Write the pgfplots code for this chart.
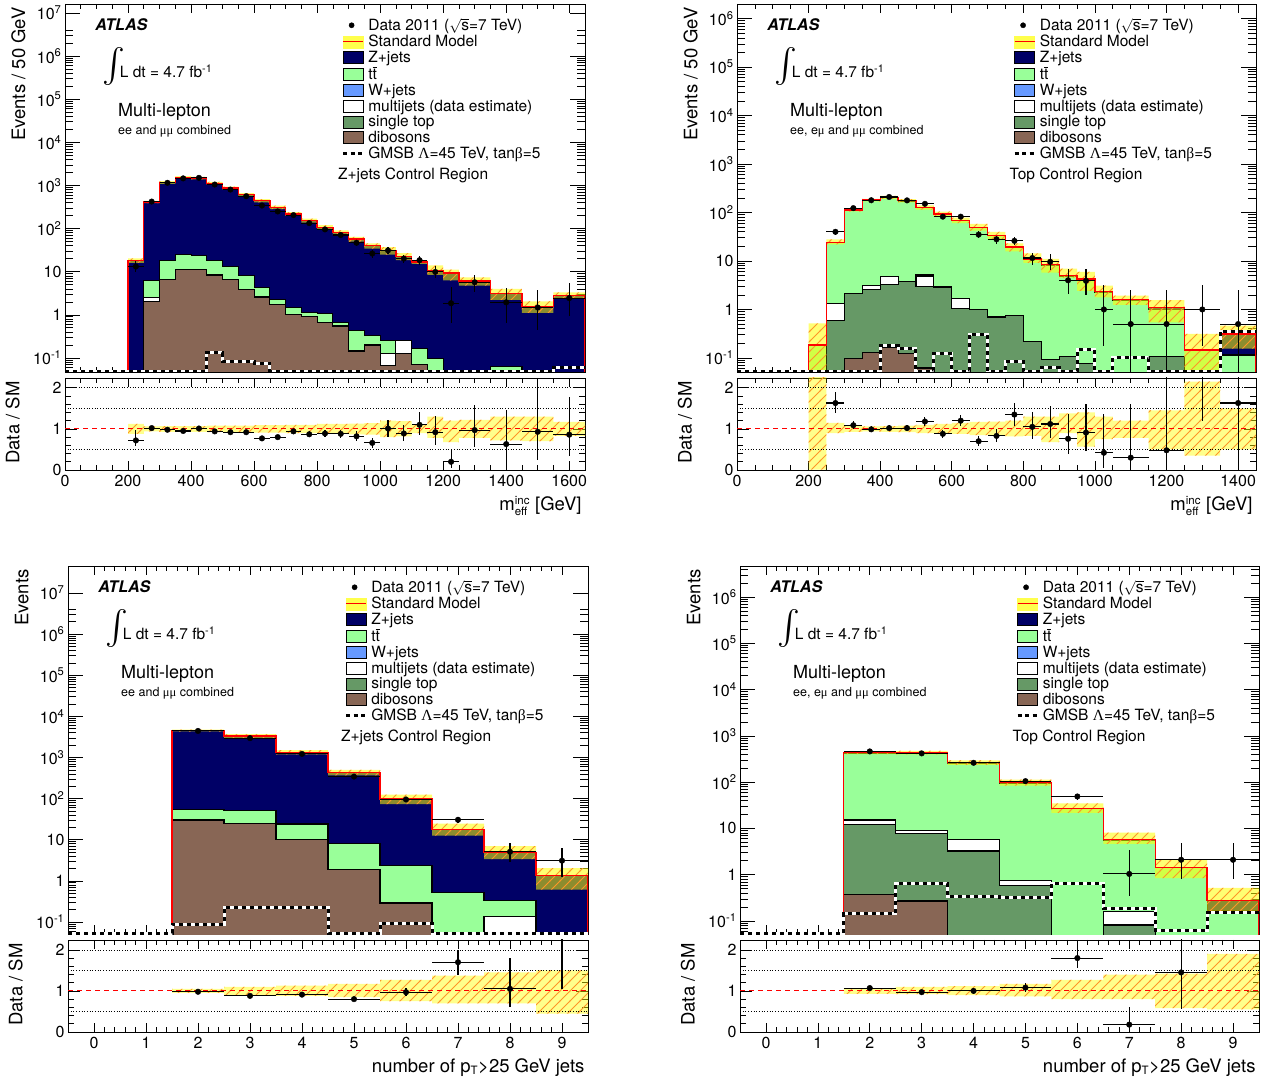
\documentclass[border=0pt]{standalone}
\usepackage{fontspec}
\setmainfont{TeX Gyre Heros}
\newfontfamily\grk{Liberation Serif}
\usepackage{pgfplots}
\pgfplotsset{compat=1.18}
\usepackage{pgfplotstable}
\usetikzlibrary{patterns}

\pgfdeclarepatternformonly{hatch}{\pgfqpoint{-1pt}{-1pt}}{\pgfqpoint{11pt}{11pt}}{\pgfqpoint{10pt}{10pt}}%
{\pgfsetlinewidth{0.9pt}\pgfpathmoveto{\pgfqpoint{-1pt}{-1pt}}\pgfpathlineto{\pgfqpoint{11pt}{11pt}}\pgfusepath{stroke}}

\definecolor{zjcol}{RGB}{0,0,102}
\definecolor{ttcol}{RGB}{153,255,153}
\definecolor{wjcol}{RGB}{102,153,255}
\definecolor{stcol}{RGB}{102,153,102}
\definecolor{dbcol}{RGB}{136,102,85}
\definecolor{bandyel}{RGB}{255,255,0}
\definecolor{hatchor}{RGB}{255,150,40}

\newcommand\fsTick{\fontsize{16}{19}\selectfont}
\newcommand\fsLeg{\fontsize{15.5}{18}\selectfont}
\newcommand\fsTitle{\fontsize{18.5}{22}\selectfont}
\newcommand\fsML{\fontsize{18}{21}\selectfont}
\newcommand\fsSmall{\fontsize{12.5}{15}\selectfont}
\newcommand\fsSub{\fontsize{11.5}{12}\selectfont}

\def\minlist{0.05,0.06,0.07,0.08,0.09,0.2,0.3,0.4,0.5,0.6,0.7,0.8,0.9,2,3,4,5,6,7,8,9,20,30,40,50,60,70,80,90,200,300,400,500,600,700,800,900,2000,3000,4000,5000,6000,7000,8000,9000,20000,30000,40000,50000,60000,70000,80000,90000,200000,300000,400000,500000,600000,700000,800000,900000,2000000,3000000,4000000}

% ---------------- top left: meff, Z+jets CR ----------------
\pgfplotstableread{
x Z tt W mj st db gm
0 0.001 0.001 0.001 0.001 0.001 0.001 0.049
200 18.3 0.001 0.001 0.001 0.001 0.001 0.049
250 416 6.3 2.5 2.5 2.0 2.0 0.049
300 1180 18.3 6.6 6.6 6.6 6.6 0.049
350 1540 24.8 11.2 11.2 11.2 11.2 0.049
400 1490 23.5 11.2 11.2 11.2 11.2 0.049
450 1120 18.3 8.4 8.4 8.4 8.4 0.132
500 875 13.3 6.7 6.7 6.7 6.7 0.082
550 614 8.3 3.9 3.9 3.9 3.9 0.082
600 446 4.3 2.6 2.6 2.6 2.6 0.075
650 312 2.27 1.74 1.74 1.74 1.74 0.049
700 219 1.45 1.02 1.02 1.02 1.02 0.049
750 154 1.11 0.90 0.90 0.90 0.90 0.049
800 108 1.08 0.68 0.68 0.68 0.68 0.049
850 81 0.68 0.55 0.55 0.55 0.55 0.049
900 57 0.43 0.145 0.145 0.145 0.145 0.049
950 40 0.34 0.20 0.20 0.20 0.20 0.049
1000 31 0.25 0.13 0.13 0.066 0.066 0.049
1050 22.7 0.26 0.26 0.26 0.124 0.124 0.049
1100 16.8 0.167 0.07 0.07 0.07 0.07 0.049
1150 10.8 0.095 0.001 0.001 0.001 0.001 0.049
1200 9.3 0.001 0.001 0.001 0.001 0.001 0.049
1250 6.1 0.001 0.001 0.001 0.001 0.001 0.049
1350 3.1 0.062 0.001 0.001 0.001 0.001 0.049
1450 1.59 0.001 0.001 0.001 0.001 0.001 0.049
1550 2.85 0.001 0.001 0.001 0.001 0.001 0.061
1650 2.85 0.001 0.001 0.001 0.001 0.001 0.061
1650 0.001 0.001 0.001 0.001 0.001 0.001 0.061
}\TLs
\pgfplotstableread{
x Z m
200 18.3 1.12
250 416 1.06
300 1180 1.07
350 1540 1.07
400 1490 1.07
450 1120 1.08
500 875 1.08
550 614 1.08
600 446 1.09
650 312 1.09
700 219 1.10
750 154 1.10
800 108 1.12
850 81 1.12
900 57 1.13
950 40 1.14
1000 31 1.20
1050 22.7 1.19
1100 16.8 1.10
1150 10.8 1.30
1200 9.3 1.20
1250 6.1 1.22
1350 3.1 1.30
1450 1.59 1.30
1550 2.85 1.17
1650 2.85 1.17
1650 2.85 0.83
1550 1.59 0.70
1450 3.1 0.72
1350 6.1 0.78
1250 9.3 0.68
1200 10.8 0.78
1150 16.8 0.90
1100 22.7 0.82
1050 31 0.80
1000 40 0.86
950 57 0.87
900 81 0.88
850 108 0.88
800 154 0.90
750 219 0.90
700 312 0.91
650 446 0.91
600 614 0.92
550 875 0.92
500 1120 0.92
450 1490 0.93
400 1540 0.93
350 1180 0.93
300 416 0.94
250 18.3 0.88
200 18.3 0.88
}\TLb
\pgfplotstableread{
xc xe D ep em r rp rm
225 25 13.2 4.2 3.6 0.72 0.26 0.14
275 25 424 20.6 20.6 1.02 0.05 0.05
325 25 1156 34 34 0.98 0.04 0.04
375 25 1463 38 38 0.95 0.04 0.04
425 25 1505 39 39 1.01 0.04 0.04
475 25 1053 32 32 0.94 0.04 0.04
525 25 805 28 28 0.92 0.04 0.04
575 25 565 24 24 0.92 0.04 0.04
625 25 343 18.5 18.5 0.77 0.04 0.04
675 25 250 15.8 15.8 0.80 0.05 0.05
725 25 206 14.3 14.3 0.94 0.07 0.07
775 25 134 11.6 11.6 0.87 0.07 0.07
825 25 96 9.8 9.8 0.89 0.09 0.09
875 25 71 8.4 8.4 0.88 0.10 0.10
925 25 47 6.9 6.9 0.82 0.12 0.12
975 25 26.4 5.1 5.1 0.66 0.13 0.13
1025 25 31.3 5.6 5.6 1.01 0.20 0.20
1075 25 20.2 4.5 4.5 0.89 0.20 0.18
1125 25 18.5 4.3 4.3 1.10 0.30 0.26
1175 25 9.9 3.8 2.9 0.92 0.40 0.30
1225 25 1.86 2.46 1.22 0.20 0.28 0.15
1300 50 5.7 2.8 2.4 0.97 0.62 0.42
1400 50 1.95 2.3 1.3 0.63 0.82 0.43
1500 50 1.48 2.3 1.04 0.93 1.30 0.68
1600 50 2.45 3.1 1.5 0.86 0.92 0.51
}\TLd

% ---------------- top right: meff, top CR ----------------
\pgfplotstableread{
x Z tt W mj st db gm
0 0.001 0.001 0.001 0.001 0.001 0.001 0.053
200 0.185 0.185 0.001 0.001 0.001 0.001 0.053
250 24.4 24.0 1.33 1.33 0.60 0.001 0.053
300 113 111 2.13 2.13 2.13 0.099 0.053
350 181 178 3.1 3.1 2.58 0.131 0.053
400 205 202 4.83 4.83 3.26 0.163 0.179
450 175 172 3.81 3.81 3.81 0.125 0.153
500 128 126 5.2 4.9 3.0 0.062 0.053
550 93.6 92 2.91 2.91 2.91 0.001 0.125
600 68.2 67 1.65 1.65 1.05 0.001 0.053
650 49.7 48.8 1.0 1.0 1.0 0.001 0.31
700 33.6 33 0.70 0.70 0.70 0.001 0.053
750 19.3 19 0.76 0.76 0.76 0.001 0.084
800 11 10.6 0.216 0.216 0.216 0.001 0.053
850 8.5 8.2 0.091 0.091 0.091 0.001 0.063
900 5.06 4.75 0.106 0.106 0.106 0.001 0.053
950 4.25 4.1 0.078 0.078 0.078 0.001 0.146
1000 2.38 2.2 0.001 0.001 0.001 0.001 0.053
1050 1.60 1.50 0.001 0.001 0.001 0.001 0.10
1150 1.08 1.0 0.106 0.106 0.106 0.001 0.053
1250 0.146 0.146 0.001 0.001 0.001 0.001 0.053
1350 0.31 0.115 0.001 0.001 0.001 0.001 0.35
1450 0.31 0.115 0.001 0.001 0.001 0.001 0.35
1450 0.001 0.001 0.001 0.001 0.001 0.001 0.35
}\TRs
\pgfplotstableread{
x Z m
200 0.185 2.8
250 24.4 1.15
300 113 1.07
350 181 1.06
400 205 1.07
450 175 1.08
500 128 1.10
550 93.6 1.12
600 68.2 1.15
650 49.7 1.17
700 33.6 1.18
750 19.3 1.20
800 11 1.30
850 8.5 1.30
900 5.06 1.38
950 4.25 1.40
1000 2.38 1.30
1050 1.60 1.20
1150 1.08 1.45
1250 0.146 2.15
1350 0.31 1.50
1450 0.31 1.50
1450 0.31 0.50
1350 0.146 0.35
1250 1.08 0.50
1150 1.60 0.78
1050 2.38 0.75
1000 4.25 0.57
950 5.06 0.90
900 8.5 0.68
850 11 0.83
800 19.3 0.82
750 33.6 0.85
700 49.7 0.85
650 68.2 0.88
600 93.6 0.88
550 128 0.90
500 175 0.92
450 205 0.93
400 181 0.94
350 113 0.93
300 24.4 0.90
250 0.185 0.01
200 0.185 0.01
}\TRb
\pgfplotstableread{
xc xe D ep em r rp rm
275 25 40 6.3 6.3 1.63 0.27 0.25
325 25 123 11 11 1.09 0.10 0.10
375 25 179 13.4 13.4 0.99 0.07 0.07
425 25 209 14.5 14.5 1.02 0.07 0.07
475 25 178 13.3 13.3 1.02 0.08 0.08
525 25 151 12.3 12.3 1.18 0.10 0.10
575 25 82 9.1 9.1 0.88 0.10 0.10
625 25 82 9 9 1.20 0.14 0.14
675 25 35 5.9 5.9 0.70 0.12 0.12
725 25 28 5.3 5.3 0.83 0.16 0.16
775 25 26 5.1 5.1 1.35 0.27 0.27
825 25 11.5 3.4 3.4 1.05 0.35 0.30
875 25 9.6 4.3 3.2 1.12 0.45 0.35
925 25 4.0 2.95 1.87 0.76 0.60 0.38
975 25 3.9 2.95 1.87 0.91 0.70 0.45
1025 25 1.0 2.16 0.82 0.42 0.95 0.37
1100 50 0.5 2.0 0.49 0.30 1.30 0.30
1200 50 0.5 2.0 0.49 0.48 2.00 0.48
1300 50 1.0 2.16 0.82 6.8 5.0 5.6
1400 50 0.5 2.0 0.49 1.63 2.00 1.63
}\TRd

% ---------------- bottom left: njets, Z+jets CR ----------------
\pgfplotstableread{
x Z tt W mj st db gm
-0.5 0.001 0.001 0.001 0.001 0.001 0.001 0.053
1.5 4520 55.2 30.3 30.3 30.3 30.3 0.089
2.5 3360 51 25.2 25.2 25.2 25.2 0.228
3.5 1346 24.2 9.9 9.9 9.9 9.9 0.228
4.5 430 8.2 1.91 1.91 1.91 1.91 0.053
5.5 98.4 2.31 0.29 0.29 0.29 0.29 0.093
6.5 18.0 0.52 0.001 0.001 0.001 0.001 0.053
7.5 4.85 0.34 0.135 0.135 0.001 0.001 0.053
8.5 1.37 0.001 0.001 0.001 0.001 0.001 0.053
9.5 1.37 0.001 0.001 0.001 0.001 0.001 0.053
9.5 0.001 0.001 0.001 0.001 0.001 0.001 0.053
}\BLs
\pgfplotstableread{
x Z m
1.5 4520 1.05
2.5 3360 1.10
3.5 1346 1.13
4.5 430 1.17
5.5 98.4 1.27
6.5 18.0 1.37
7.5 4.85 1.45
8.5 1.37 1.50
9.5 1.37 1.50
9.5 1.37 0.45
8.5 4.85 0.70
7.5 18.0 0.70
6.5 98.4 0.75
5.5 430 0.85
4.5 1346 0.88
3.5 3360 0.90
2.5 4520 0.95
1.5 4520 0.95
}\BLb
\pgfplotstableread{
xc xe D ep em r rp rm
2 0.5 4430 67 67 0.98 0.03 0.03
3 0.5 2960 54 54 0.88 0.03 0.03
4 0.5 1225 35 35 0.91 0.03 0.03
5 0.5 344 18.5 18.5 0.80 0.04 0.04
6 0.5 95.5 9.8 9.8 0.97 0.10 0.10
7 0.5 30.6 5.5 5.5 1.70 0.30 0.30
8 0.5 5.1 3.4 2.2 1.05 0.75 0.45
9 0.5 3.1 3.1 1.84 2.3 1.5 1.25
}\BLd

% ---------------- bottom right: njets, top CR ----------------
\pgfplotstableread{
x Z tt W mj st db gm
-0.5 0.001 0.001 0.001 0.001 0.001 0.001 0.054
1.5 431 425 15.2 15.2 12.2 0.38 0.147
2.5 431 427 9.2 9.2 7.8 0.27 0.63
3.5 262 258 5.8 5.8 3.25 0.001 0.335
4.5 97 95 0.74 0.74 0.59 0.001 0.32
5.5 27.2 26.5 0.001 0.001 0.001 0.001 0.63
6.5 5.8 5.6 0.158 0.158 0.082 0.001 0.188
7.5 1.45 1.4 0.001 0.001 0.001 0.001 0.062
8.5 0.274 0.167 0.001 0.001 0.001 0.001 0.15
9.5 0.274 0.167 0.001 0.001 0.001 0.001 0.15
9.5 0.001 0.001 0.001 0.001 0.001 0.001 0.15
}\BRs
\pgfplotstableread{
x Z m
1.5 431 1.07
2.5 431 1.10
3.5 262 1.12
4.5 97 1.17
5.5 27.2 1.27
6.5 5.8 1.40
7.5 1.45 1.42
8.5 0.274 1.90
9.5 0.274 1.90
9.5 0.274 0.55
8.5 1.45 0.58
7.5 5.8 0.80
6.5 27.2 0.80
5.5 97 0.87
4.5 262 0.90
3.5 431 0.92
2.5 431 0.93
1.5 431 0.93
}\BRb
\pgfplotstableread{
xc xe D ep em r rp rm
2 0.5 461 21.5 21.5 1.07 0.05 0.05
3 0.5 418 20.4 20.4 0.97 0.05 0.05
4 0.5 262 16.2 16.2 1.00 0.07 0.07
5 0.5 105 10.2 10.2 1.08 0.11 0.11
6 0.5 49 7 7 1.80 0.25 0.25
7 0.5 1.04 2.4 0.7 0.18 0.42 0.17
8 0.5 2.1 2.7 1.3 1.45 0.90 0.90
9 0.5 2.1 2.7 1.3 7.6 1.0 5.0
}\BRd

\newcommand\legendstuff{%
\addlegendimage{only marks, mark=*, mark size=2.6pt, black}
\addlegendentry{Data 2011 ($\sqrt{\mbox{s}}$=7 TeV)}
\addlegendimage{legend image code/.code={\fill[bandyel!70] (0pt,-6pt) rectangle (20pt,6pt); \draw[red, line width=1pt] (0pt,0pt) -- (20pt,0pt);}}
\addlegendentry{Standard Model}
\addlegendimage{legend image code/.code={\draw[fill=zjcol, draw=black, line width=0.8pt] (0pt,-6pt) rectangle (20pt,6pt);}}
\addlegendentry{Z+jets}
\addlegendimage{legend image code/.code={\draw[fill=ttcol, draw=black, line width=0.8pt] (0pt,-6pt) rectangle (20pt,6pt);}}
\addlegendentry{t$\overline{\mbox{t}}$}
\addlegendimage{legend image code/.code={\draw[fill=wjcol, draw=black, line width=0.8pt] (0pt,-6pt) rectangle (20pt,6pt);}}
\addlegendentry{W+jets}
\addlegendimage{legend image code/.code={\draw[fill=white, draw=black, line width=0.8pt] (0pt,-6pt) rectangle (20pt,6pt);}}
\addlegendentry{multijets (data estimate)}
\addlegendimage{legend image code/.code={\draw[fill=stcol, draw=black, line width=0.8pt] (0pt,-6pt) rectangle (20pt,6pt);}}
\addlegendentry{single top}
\addlegendimage{legend image code/.code={\draw[fill=dbcol, draw=black, line width=0.8pt] (0pt,-6pt) rectangle (20pt,6pt);}}
\addlegendentry{dibosons}
\addlegendimage{legend image code/.code={\draw[black, line width=3.5pt, dash pattern=on 4pt off 3.5pt] (0pt,0pt) -- (20pt,0pt);}}
\addlegendentry{GMSB {\grk Λ}=45 TeV, tan{\grk β}=5}
}

\newcommand\stackplots[2]{%
\addplot[forget plot, const plot mark left, draw=black, line width=1.1pt, fill=zjcol] table[x=x,y=Z]{#1};
\addplot[forget plot, const plot mark left, draw=black, line width=1.1pt, fill=ttcol] table[x=x,y=tt]{#1};
\addplot[forget plot, const plot mark left, draw=black, line width=1.1pt, fill=wjcol] table[x=x,y=W]{#1};
\addplot[forget plot, const plot mark left, draw=black, line width=1.1pt, fill=white] table[x=x,y=mj]{#1};
\addplot[forget plot, const plot mark left, draw=black, line width=1.1pt, fill=stcol] table[x=x,y=st]{#1};
\addplot[forget plot, const plot mark left, draw=black, line width=1.1pt, fill=dbcol] table[x=x,y=db]{#1};
\addplot[forget plot, const plot mark left, fill=bandyel, fill opacity=0.55, draw=none] table[x=x, y expr=\thisrow{Z}*\thisrow{m}]{#2};
\addplot[forget plot, const plot mark left, draw=none, pattern=hatch, pattern color=hatchor] table[x=x, y expr=\thisrow{Z}*\thisrow{m}]{#2};
\addplot[forget plot, const plot mark left, red, line width=1.3pt] table[x=x,y=Z]{#1};
\addplot[forget plot, const plot mark left, white, line width=3pt] table[x=x,y=gm]{#1};
\addplot[forget plot, const plot mark left, black, line width=3pt, dash pattern=on 4pt off 4pt] table[x=x,y=gm]{#1};
}

\newcommand\dataplot[1]{%
\addplot[forget plot, only marks, mark=*, mark size=2.8pt, black,
  error bars/.cd, x dir=both, x explicit, y dir=both, y explicit, error mark=none,
  error bar style={line width=1.1pt, black}]
  table[x=xc, y=D, x error=xe, y error plus=ep, y error minus=em]{#1};
}

\newcommand\ratioplots[4]{%
\addplot[forget plot, const plot mark left, fill=bandyel, fill opacity=0.45, draw=none] table[x=x,y=m]{#1};
\addplot[forget plot, const plot mark left, draw=none, pattern=hatch, pattern color=hatchor] table[x=x,y=m]{#1};
\addplot[forget plot, black, dotted, line width=0.7pt] coordinates {(#3,0.5) (#4,0.5)};
\addplot[forget plot, black, dotted, line width=0.7pt] coordinates {(#3,1.5) (#4,1.5)};
\addplot[forget plot, black, dotted, line width=0.7pt] coordinates {(#3,2) (#4,2)};
\addplot[forget plot, red, line width=1.1pt, dash pattern=on 5pt off 4pt] coordinates {(#3,1) (#4,1)};
\addplot[forget plot, only marks, mark=*, mark size=2.8pt, black,
  error bars/.cd, x dir=both, x explicit, y dir=both, y explicit, error mark=none,
  error bar style={line width=1.1pt, black}]
  table[x=xc, y=r, x error=xe, y error plus=rp, y error minus=rm]{#2};
}

\newcommand\annot[2]{%
\node[anchor=west, inner sep=0pt, font=\fontsize{16}{19}\selectfont\bfseries\itshape] at (axis description cs:0.058,0.943) {ATLAS};
\node[anchor=west, inner sep=0pt, font=\fsLeg] at (axis description cs:0.071,0.829) {\raisebox{-2pt}{\resizebox*{!}{38pt}{$\int$}}\kern-5pt L dt = 4.7 fb\textsuperscript{-1}};
\node[anchor=west, inner sep=0pt, font=\fsML] at (axis description cs:0.102,0.707) {Multi-lepton};
\node[anchor=west, inner sep=0pt, font=\fsSmall] at (axis description cs:0.102,0.655) {#1};
\node[anchor=west, inner sep=0pt, font=\fsLeg] at (axis description cs:0.525,0.535) {#2};
}

\begin{document}
\begin{tikzpicture}
% ===== top left =====
\begin{axis}[ymode=log, scale only axis, anchor=south west, at={(65pt,709pt)}, width=520pt, height=368pt,
  xmin=0, xmax=1650, ymin=0.0473, ymax=1.62e7,
  xtick={0,200,400,600,800,1000,1200,1400,1600}, minor x tick num=3, xticklabels={},
  ytick={0.1,1,10,100,1000,10000,100000,1000000,10000000},
  yticklabels={10\textsuperscript{-1},1,10,10\textsuperscript{2},10\textsuperscript{3},10\textsuperscript{4},10\textsuperscript{5},10\textsuperscript{6},10\textsuperscript{7}},
  minor ytick/.expand once=\minlist,
  tick align=inside, major tick length=15pt, minor tick length=8pt, tick style={black, line width=0.7pt},
  xtick style={/pgfplots/major tick length=9pt, /pgfplots/minor tick length=5pt},
  axis line style={line width=0.9pt}, yticklabel style={font=\fsTick},
  ylabel={Events / 50 GeV}, ylabel style={font=\fsTitle, at={(axis description cs:-0.069,1)}, anchor=south east},
  legend style={at={(axis description cs:0.531,0.967)}, anchor=north west, draw=none, fill=none, inner sep=0pt, font=\fsLeg, row sep=-1pt, column sep=1.5pt, cells={anchor=west}},
  legend cell align=left]
\legendstuff
\stackplots{\TLs}{\TLb}
\dataplot{\TLd}
\annot{ee and {\grk μμ} combined}{Z+jets Control Region}
\end{axis}
\begin{axis}[scale only axis, anchor=south west, at={(65pt,611pt)}, width=520pt, height=92pt,
  xmin=0, xmax=1650, ymin=0, ymax=2.24,
  xtick={0,200,400,600,800,1000,1200,1400,1600}, minor x tick num=3, ytick={0,1,2}, minor y tick num=4,
  tick align=inside, major tick length=12pt, minor tick length=6pt, tick style={black, line width=0.7pt},
  xtick style={/pgfplots/major tick length=9pt, /pgfplots/minor tick length=5pt},
  axis line style={line width=0.9pt}, /pgf/number format/assume math mode=true, /pgf/number format/1000 sep={},
  ticklabel style={font=\fsTick}, xticklabel style={yshift=-2pt},
  ylabel={Data / SM}, ylabel style={font=\fsTitle, at={(axis description cs:-0.08,1)}, anchor=south east},
  xlabel={m$^{\mbox{\fsSub inc}}_{\mbox{\fsSub eff}}$ [GeV]}, xlabel style={font=\fsTitle, at={(axis description cs:1,0)}, anchor=north east, yshift=-23pt}]
\ratioplots{\TLb}{\TLd}{0}{1650}
\end{axis}
% ===== top right =====
\begin{axis}[ymode=log, scale only axis, anchor=south west, at={(737pt,709pt)}, width=519pt, height=368pt,
  xmin=0, xmax=1450, ymin=0.0513, ymax=2.0e6,
  xtick={0,200,400,600,800,1000,1200,1400}, minor x tick num=3, xticklabels={},
  ytick={0.1,1,10,100,1000,10000,100000,1000000},
  yticklabels={10\textsuperscript{-1},1,10,10\textsuperscript{2},10\textsuperscript{3},10\textsuperscript{4},10\textsuperscript{5},10\textsuperscript{6}},
  minor ytick/.expand once=\minlist,
  tick align=inside, major tick length=15pt, minor tick length=8pt, tick style={black, line width=0.7pt},
  xtick style={/pgfplots/major tick length=9pt, /pgfplots/minor tick length=5pt},
  axis line style={line width=0.9pt}, yticklabel style={font=\fsTick},
  ylabel={Events / 50 GeV}, ylabel style={font=\fsTitle, at={(axis description cs:-0.069,1)}, anchor=south east},
  legend style={at={(axis description cs:0.531,0.967)}, anchor=north west, draw=none, fill=none, inner sep=0pt, font=\fsLeg, row sep=-1pt, column sep=1.5pt, cells={anchor=west}},
  legend cell align=left]
\legendstuff
\stackplots{\TRs}{\TRb}
\dataplot{\TRd}
\annot{ee, e{\grk μ} and {\grk μμ} combined}{Top Control Region}
\end{axis}
\begin{axis}[scale only axis, anchor=south west, at={(737pt,611pt)}, width=519pt, height=92pt,
  xmin=0, xmax=1450, ymin=0, ymax=2.24,
  xtick={0,200,400,600,800,1000,1200,1400}, minor x tick num=3, ytick={0,1,2}, minor y tick num=4,
  tick align=inside, major tick length=12pt, minor tick length=6pt, tick style={black, line width=0.7pt},
  xtick style={/pgfplots/major tick length=9pt, /pgfplots/minor tick length=5pt},
  axis line style={line width=0.9pt}, /pgf/number format/assume math mode=true, /pgf/number format/1000 sep={},
  ticklabel style={font=\fsTick}, xticklabel style={yshift=-2pt},
  ylabel={Data / SM}, ylabel style={font=\fsTitle, at={(axis description cs:-0.08,1)}, anchor=south east},
  xlabel={m$^{\mbox{\fsSub inc}}_{\mbox{\fsSub eff}}$ [GeV]}, xlabel style={font=\fsTitle, at={(axis description cs:1,0)}, anchor=north east, yshift=-23pt}]
\ratioplots{\TRb}{\TRd}{0}{1450}
\end{axis}
% ===== bottom left =====
\begin{axis}[ymode=log, scale only axis, anchor=south west, at={(68pt,147pt)}, width=520pt, height=368pt,
  xmin=-0.5, xmax=9.5, ymin=0.0511, ymax=4.54e7,
  xtick={0,1,2,3,4,5,6,7,8,9}, minor x tick num=4, xticklabels={},
  ytick={0.1,1,10,100,1000,10000,100000,1000000,10000000},
  yticklabels={10\textsuperscript{-1},1,10,10\textsuperscript{2},10\textsuperscript{3},10\textsuperscript{4},10\textsuperscript{5},10\textsuperscript{6},10\textsuperscript{7}},
  minor ytick/.expand once=\minlist,
  tick align=inside, major tick length=15pt, minor tick length=8pt, tick style={black, line width=0.7pt},
  xtick style={/pgfplots/major tick length=9pt, /pgfplots/minor tick length=5pt},
  axis line style={line width=0.9pt}, yticklabel style={font=\fsTick},
  ylabel={Events}, ylabel style={font=\fsTitle, at={(axis description cs:-0.069,1)}, anchor=south east},
  legend style={at={(axis description cs:0.531,0.967)}, anchor=north west, draw=none, fill=none, inner sep=0pt, font=\fsLeg, row sep=-1pt, column sep=1.5pt, cells={anchor=west}},
  legend cell align=left]
\legendstuff
\stackplots{\BLs}{\BLb}
\dataplot{\BLd}
\annot{ee and {\grk μμ} combined}{Z+jets Control Region}
\end{axis}
\begin{axis}[scale only axis, anchor=south west, at={(68pt,49pt)}, width=520pt, height=92pt,
  xmin=-0.5, xmax=9.5, ymin=0, ymax=2.24,
  xtick={0,1,2,3,4,5,6,7,8,9}, minor x tick num=4, ytick={0,1,2}, minor y tick num=4,
  tick align=inside, major tick length=12pt, minor tick length=6pt, tick style={black, line width=0.7pt},
  xtick style={/pgfplots/major tick length=9pt, /pgfplots/minor tick length=5pt},
  axis line style={line width=0.9pt}, /pgf/number format/assume math mode=true,
  ticklabel style={font=\fsTick}, xticklabel style={yshift=-2pt},
  ylabel={Data / SM}, ylabel style={font=\fsTitle, at={(axis description cs:-0.08,1)}, anchor=south east},
  xlabel={number of p$_{\mbox{\fsSub T}}$>25 GeV jets}, xlabel style={font=\fsTitle, at={(axis description cs:1,0)}, anchor=north east, yshift=-23pt}]
\ratioplots{\BLb}{\BLd}{-0.5}{9.5}
\end{axis}
% ===== bottom right =====
\begin{axis}[ymode=log, scale only axis, anchor=south west, at={(740pt,147pt)}, width=519pt, height=368pt,
  xmin=-0.5, xmax=9.5, ymin=0.0523, ymax=4.68e6,
  xtick={0,1,2,3,4,5,6,7,8,9}, minor x tick num=4, xticklabels={},
  ytick={0.1,1,10,100,1000,10000,100000,1000000},
  yticklabels={10\textsuperscript{-1},1,10,10\textsuperscript{2},10\textsuperscript{3},10\textsuperscript{4},10\textsuperscript{5},10\textsuperscript{6}},
  minor ytick/.expand once=\minlist,
  tick align=inside, major tick length=15pt, minor tick length=8pt, tick style={black, line width=0.7pt},
  xtick style={/pgfplots/major tick length=9pt, /pgfplots/minor tick length=5pt},
  axis line style={line width=0.9pt}, yticklabel style={font=\fsTick},
  ylabel={Events}, ylabel style={font=\fsTitle, at={(axis description cs:-0.069,1)}, anchor=south east},
  legend style={at={(axis description cs:0.531,0.967)}, anchor=north west, draw=none, fill=none, inner sep=0pt, font=\fsLeg, row sep=-1pt, column sep=1.5pt, cells={anchor=west}},
  legend cell align=left]
\legendstuff
\stackplots{\BRs}{\BRb}
\dataplot{\BRd}
\annot{ee, e{\grk μ} and {\grk μμ} combined}{Top Control Region}
\end{axis}
\begin{axis}[scale only axis, anchor=south west, at={(740pt,49pt)}, width=519pt, height=92pt,
  xmin=-0.5, xmax=9.5, ymin=0, ymax=2.24,
  xtick={0,1,2,3,4,5,6,7,8,9}, minor x tick num=4, ytick={0,1,2}, minor y tick num=4,
  tick align=inside, major tick length=12pt, minor tick length=6pt, tick style={black, line width=0.7pt},
  xtick style={/pgfplots/major tick length=9pt, /pgfplots/minor tick length=5pt},
  axis line style={line width=0.9pt}, /pgf/number format/assume math mode=true,
  ticklabel style={font=\fsTick}, xticklabel style={yshift=-2pt},
  ylabel={Data / SM}, ylabel style={font=\fsTitle, at={(axis description cs:-0.08,1)}, anchor=south east},
  xlabel={number of p$_{\mbox{\fsSub T}}$>25 GeV jets}, xlabel style={font=\fsTitle, at={(axis description cs:1,0)}, anchor=north east, yshift=-23pt}]
\ratioplots{\BRb}{\BRd}{-0.5}{9.5}
\end{axis}
\pgfresetboundingbox
\path (0,0) rectangle (1273pt,1081pt);
\end{tikzpicture}
\end{document}
